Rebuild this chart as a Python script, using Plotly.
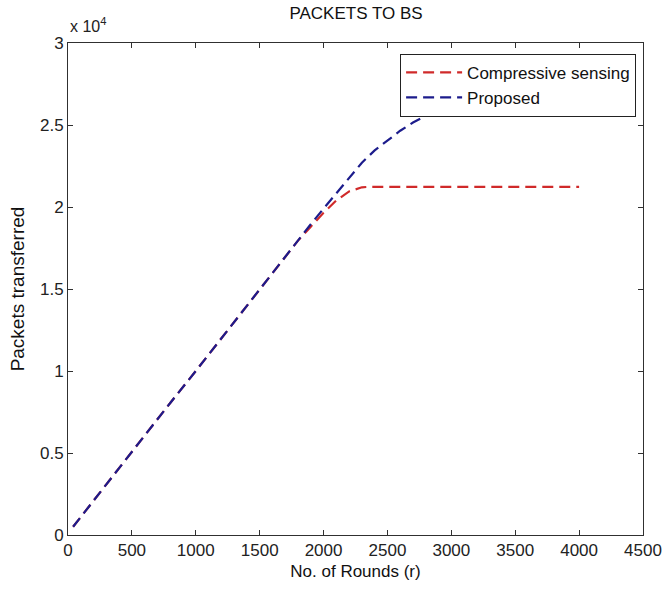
import plotly.graph_objects as go

# Packets delivered to the base station per round
rounds_cs = [40, 200, 400, 600, 800, 1000, 1200, 1400, 1600, 1800, 1900, 2000,
             2100, 2200, 2300, 2350, 2500, 3000, 3500, 4000]
packets_cs = [500, 2100, 4100, 6100, 8050, 10000, 12000, 14000, 16000, 17950,
              18800, 19650, 20400, 20950, 21200, 21230, 21230, 21230, 21230, 21230]

rounds_prop = [40, 200, 400, 600, 800, 1000, 1200, 1400, 1600, 1800, 1900, 2000,
               2100, 2200, 2300, 2400, 2500, 2600, 2700, 2800, 2900, 3000, 3100,
               3200, 3500, 4000]
packets_prop = [500, 2100, 4100, 6100, 8050, 10000, 12000, 14000, 16000, 17950,
                18950, 19900, 20850, 21800, 22700, 23450, 24050, 24650, 25150,
                25550, 25850, 26100, 26250, 26300, 26300, 26300]

x_ticks = [0, 500, 1000, 1500, 2000, 2500, 3000, 3500, 4000, 4500]
y_ticks = [0, 5000, 10000, 15000, 20000, 25000, 30000]
y_tick_text = ["0", "0.5", "1", "1.5", "2", "2.5", "3"]

FONT = "Arial, Liberation Sans, Helvetica, sans-serif"
AXIS_COLOR = "#303030"

fig = go.Figure()
fig.add_trace(go.Scatter(
    x=rounds_cs, y=packets_cs, mode="lines", name="Compressive sensing",
    line=dict(color="#d02a2a", width=2.2, dash="11px,6px"),
))
fig.add_trace(go.Scatter(
    x=rounds_prop, y=packets_prop, mode="lines", name="Proposed",
    line=dict(color="#1c1c8c", width=2.2, dash="11px,6px"),
))

axis_common = dict(
    showgrid=False, zeroline=False, showline=True, linecolor=AXIS_COLOR,
    linewidth=1, mirror="ticks", ticks="inside", ticklen=5,
    tickcolor=AXIS_COLOR, tickfont=dict(family=FONT, size=17, color="#222"),
    ticklabeloverflow="allow", automargin=False,
)

fig.update_layout(
    width=663, height=592,
    margin=dict(l=68, r=20, t=43, b=57),
    paper_bgcolor="white", plot_bgcolor="white",
    title=dict(text="PACKETS TO BS", x=0.537, xanchor="center", y=0.978,
               yanchor="middle", font=dict(family=FONT, size=17, color="#111")),
    xaxis=dict(range=[0, 4500], tickvals=x_ticks,
               title=dict(text="No. of Rounds (r)", standoff=5,
                          font=dict(family=FONT, size=17, color="#111")),
               **axis_common),
    yaxis=dict(range=[0, 30000], tickvals=y_ticks, ticktext=y_tick_text,
               title=dict(text="Packets transferred", standoff=10,
                          font=dict(family=FONT, size=19, color="#111")),
               **axis_common),
    legend=dict(x=0.988, y=0.978, xanchor="right", yanchor="top",
                bgcolor="white", bordercolor="#222", borderwidth=1,
                font=dict(family=FONT, size=17, color="#111"),
                itemwidth=56, tracegroupgap=0),
    showlegend=True,
)

fig.add_annotation(
    xref="paper", yref="paper", x=0.0, y=1.0, yshift=6, xanchor="left",
    yanchor="bottom", showarrow=False,
    text="x 10<sup>4</sup>", font=dict(family=FONT, size=16, color="#222"),
)

fig.write_html("out.html")
